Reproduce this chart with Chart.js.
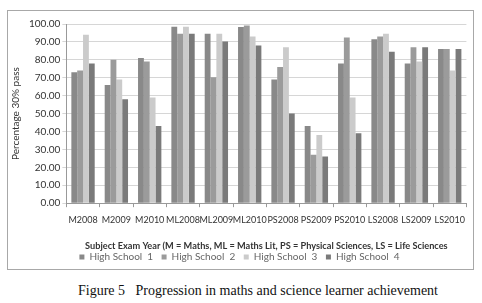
<!DOCTYPE html>
<html>
<head>
<meta charset="utf-8">
<script src="https://cdn.jsdelivr.net/npm/chart.js@4.4.1/dist/chart.umd.min.js"></script>
<style>
  html, body { margin: 0; padding: 0; background: #fff; }
  body { width: 482px; height: 303px; position: relative; overflow: hidden; }
  #box {
    position: absolute; left: 7px; top: 10px; width: 465px; height: 258px;
    border: 1px solid #a8a8a8;
  }
  #caption {
    position: absolute; left: 0; top: 283px; width: 516px; text-align: center;
    font-family: "Liberation Serif", "DejaVu Serif", serif; font-size: 14px; color: #111;
  }
</style>
</head>
<body>
<div id="box"><canvas id="chart" width="465" height="258"></canvas></div>
<div id="caption">Figure 5&nbsp;&nbsp;&nbsp;Progression in maths and science learner achievement</div>
<script>
const categories = ['M2008', 'M2009', 'M2010', 'ML2008', 'ML2009', 'ML2010',
                    'PS2008', 'PS2009', 'PS2010', 'LS2008', 'LS2009', 'LS2010'];
const school1 = [73, 66, 81, 98.5, 94.5, 98.3, 69, 43, 78, 91.5, 78, 86];
const school2 = [74, 80, 79, 94.5, 70.3, 99.2, 76, 27, 92.5, 93, 87, 86];
const school3 = [94, 69, 59, 98.5, 94.5, 93, 87, 38, 59, 94.5, 79, 74];
const school4 = [78, 58, 43, 94.5, 90.2, 88, 50, 26, 39, 84.5, 87, 86];
const seriesNames = ['High School  1', 'High School  2', 'High School  3', 'High School  4'];
const yTicks = [0, 10, 20, 30, 40, 50, 60, 70, 80, 90, 100];

const colors = ['#898989', '#9b9b9b', '#cbcbcb', '#7a7a7a'];
const font = 'Lato, "Open Sans", sans-serif';

new Chart(document.getElementById('chart'), {
  type: 'bar',
  data: {
    labels: categories,
    datasets: [school1, school2, school3, school4].map((d, i) => ({
      label: seriesNames[i],
      data: d,
      backgroundColor: colors[i],
      borderWidth: 0,
      barPercentage: 1.0,
      categoryPercentage: 0.7
    }))
  },
  options: {
    responsive: false,
    animation: false,
    layout: { padding: { left: 0, right: 2, top: 13, bottom: -3 } },
    plugins: {
      legend: {
        position: 'bottom',
        labels: {
          boxWidth: 5, boxHeight: 5, padding: 1,
          color: '#666', font: { family: font, size: 10 },
          // widen the gap between legend items without adding vertical space
          generateLabels: chart => Chart.defaults.plugins.legend.labels.generateLabels(chart)
            .map((l, i, all) => ({ ...l, text: i < all.length - 1 ? l.text + '\u2003' : l.text }))
        }
      },
      tooltip: { enabled: false }
    },
    scales: {
      x: {
        grid: { drawOnChartArea: false, color: '#999', tickLength: 4 },
        border: { color: '#999' },
        ticks: { autoSkip: false, maxRotation: 0, color: '#333', padding: 8,
                 font: { family: font, size: 9 } },
        title: {
          display: true,
          text: 'Subject Exam Year (M = Maths, ML = Maths Lit, PS = Physical Sciences, LS = Life Sciences',
          color: '#333', font: { family: font, size: 9.2, weight: 'bold' },
          padding: { top: 7, bottom: -1 }
        }
      },
      y: {
        min: 0, max: 100,
        afterBuildTicks: axis => { axis.ticks = yTicks.map(v => ({ value: v })); },
        grid: { color: '#d6d6d6', tickLength: 4 },
        border: { color: '#999' },
        ticks: { color: '#333', padding: 2, font: { family: font, size: 10 },
                 callback: v => v.toFixed(2) },
        title: {
          display: true, text: 'Percentage 30% pass',
          color: '#333', font: { family: font, size: 10 },
          padding: { top: 2, bottom: 5 }
        }
      }
    }
  }
});
</script>
</body>
</html>
